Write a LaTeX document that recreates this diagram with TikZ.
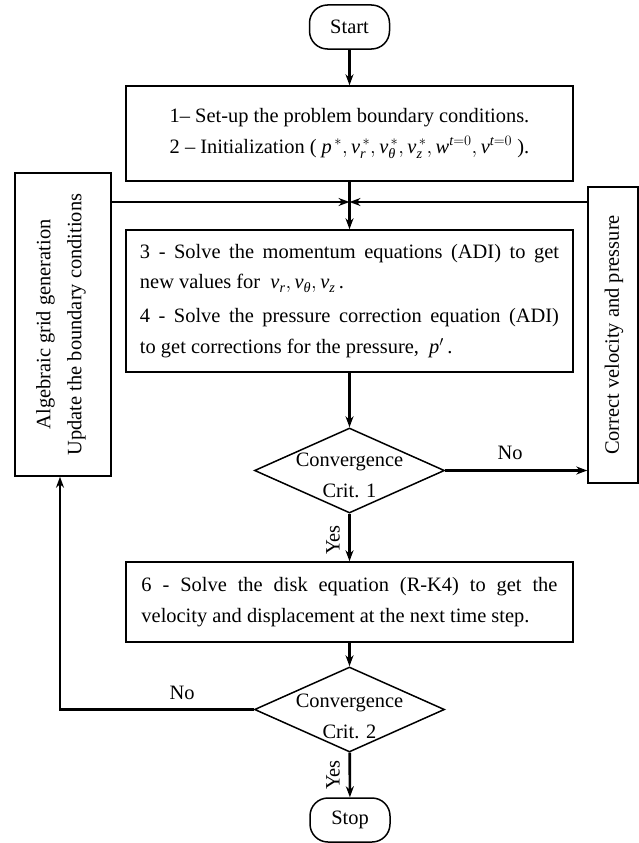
\documentclass[tikz,border=0pt]{standalone}
\usepackage{amsmath}
\usepackage{fontspec}
\setmainfont{Liberation Serif}
\usetikzlibrary{arrows.meta,shapes.geometric}
\newcommand{\myit}[1]{\mathit{#1}}
\newcommand{\mytheta}{\text{\itshape θ}}
\tolerance=9999
\hyphenpenalty=10000
\begin{document}
\begin{tikzpicture}[x=1bp,y=-1bp,
  txt/.style={font=\fontsize{20.5}{31}\selectfont},
  boxA/.style={draw,line width=1.5bp,inner sep=0pt,txt},
  term/.style={boxA,rounded corners=18bp,minimum width=80bp,minimum height=44bp},
  dec/.style={draw,line width=1.5bp,shape=diamond,inner sep=0pt,minimum width=190bp,minimum height=85bp},
  conn/.style={line width=2.6bp,-{Stealth[length=11bp,width=8bp]}},
  plainline/.style={line width=2.6bp}]
\useasboundingbox (0,0) rectangle (639,843);

\node[term] (start) at (349.5,27) {Start};
\node[boxA,minimum width=447bp,minimum height=95bp,align=center] (b1) at (349.5,133.5)
  {1– Set-up the problem boundary conditions.\\
   2 – Initialization ( $\myit{p}^{\,*}, \myit{v}_{\myit{r}}^{\,*}, \myit{v}_{\mytheta}^{\,*}, \myit{v}_{\myit{z}}^{\,*}, \myit{w}^{\myit{t}=0}, \myit{v}^{\myit{t}=0}$ ).};
\node[boxA,minimum width=447bp,minimum height=142bp,text width=419bp,align=justify] (b3) at (349.5,301)
  {3 - Solve the momentum equations (ADI) to get\linebreak new values for~ $\myit{v}_{\myit{r}},\myit{v}_{\mytheta},\myit{v}_{\myit{z}}$\,.\par\vspace{3bp}
   4 - Solve the pressure correction equation (ADI)\linebreak to get corrections for the pressure,~ $\myit{p}'$\,.};
\node[dec] (d1) at (349.5,470.5) {};
\node[txt,align=center] (d1t) at (349.5,475) {Convergence\\Crit. 1};
\node[boxA,minimum width=447bp,minimum height=80bp,text width=416bp,align=justify] (b6) at (349.5,602)
  {6 - Solve the disk equation (R-K4) to get the\linebreak velocity and displacement at the next time step.};
\node[dec] (d2) at (349.5,709.5) {};
\node[txt,align=center] (d2t) at (349.5,716) {Convergence\\Crit. 2};
\node[term] (stop) at (350,820) {Stop};

\node[boxA,minimum width=96bp,minimum height=303bp] (lb) at (63,324.5) {};
\node[txt,rotate=90,align=center] (lbt) at (61,324.5) {Algebraic grid generation\\Update the boundary conditions};
\node[boxA,minimum width=50bp,minimum height=296bp] (rb) at (613,335) {};
\node[txt,rotate=90] (rbt) at (614,335) {Correct velocity and pressure};

\coordinate (j) at (349.5,202);
\draw[plainline] (b1.south) -- (j);
\draw[conn] (j -| lb.east) -- (j);
\draw[conn] (j -| rb.west) -- (j);
\draw[conn] (j) -- (b3.north);
\draw[conn] (start) -- (b1);
\draw[conn] (b3) -- (d1);
\draw[conn] (d1) -- (b6);
\draw[conn] (b6) -- (d2);
\draw[conn] (d2) -- (stop);
\draw[conn] (d1.east) -- (d1.east -| rb.west);
\draw[conn] (d2.west) -| ([xshift=-3bp]lb.south);

\node[txt] (no1) at (510,453) {No};
\node[txt] (no2) at (182,693) {No};
\node[txt,rotate=90] (yes1) at (333,540) {Yes};
\node[txt,rotate=90] (yes2) at (333,775) {Yes};
\end{tikzpicture}
\end{document}
